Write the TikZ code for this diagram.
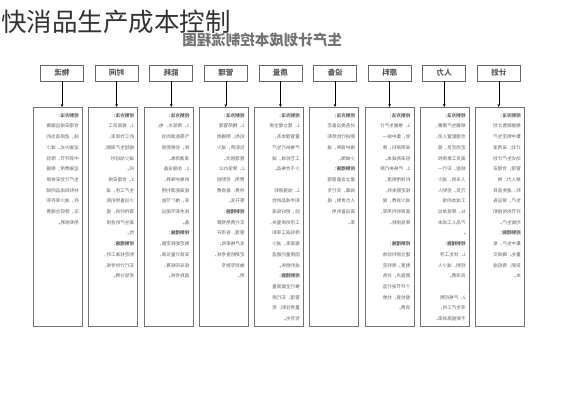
\documentclass[tikz,border=0pt]{standalone}
\usepackage{fontspec}
\setmainfont{Noto Sans CJK SC}
\usepackage{graphicx}
\usetikzlibrary{arrows.meta}

\begin{document}
\begin{tikzpicture}[x=1pt,y=1pt]
\tikzset{hbox/.style={draw=black!60,line width=.8pt,minimum width=43pt,minimum height=16pt,inner sep=0pt,
                      font=\fontsize{7.5}{8}\selectfont\bfseries,text=black!65},
         tbox/.style={draw=black!55,line width=1pt,minimum width=49pt,minimum height=219pt,inner sep=0pt,anchor=north west},
         txt/.style={inner sep=0pt,anchor=north east,font=\fontsize{4.6}{10.7}\selectfont,text=black!62},
         arr/.style={-{Stealth[length=3pt,width=2.6pt]},line width=.5pt}}
\fill[white] (0,0) rectangle (565,-400);
\useasboundingbox (0,0) rectangle (565,-400);

\node[anchor=base west,inner sep=0pt,font=\fontsize{25.5}{30}\selectfont,text=black!80] (title) at (1,-31) {快消品生产成本控制};
\node[anchor=base,inner sep=0pt,font=\fontsize{14.5}{18}\selectfont\bfseries,text=black!55] (sub) at (262,-45) {\reflectbox{生产计划成本控制流程图}};

% the whole chart is printed mirrored
\foreach \n/\t [count=\i from 0] in {log/物流,time/时间,energy/能耗,admin/管理,quality/质量,
                                   equip/设备,material/原料,labour/人力,plan/计划} {
  \node[hbox] (h\n) at (62+54.6*\i,-73) {\reflectbox{\t}};
  \node[tbox] (b\n) at (33+55.25*\i,-107) {};
  \draw[arr] (h\n) -- (h\n |- b\n.north);
}

\node[txt] (tlog) at ([xshift=-4,yshift=-6]blog.north east) {\reflectbox{\parbox[t]{34pt}{%
{\bfseries 控制方法：}\\合理安排运输路\\线，选择适当的\\运输方式，减少\\中转环节，降低\\运输费用；根据\\生产计划安排原\\材料和成品的储\\存，减少库存积\\压，降低仓储费\\用和损耗。}}};

\node[txt] (ttime) at ([xshift=-4,yshift=-6]btime.north east) {\reflectbox{\parbox[t]{34pt}{%
{\bfseries 控制方法：}\\1、提高员工\\的工作效率，\\缩短生产周期，\\减少加班时\\间。\\2、合理安排\\生产工序，减\\少设备停机和\\等待时间，提\\高生产的连续\\性。\\
{\bfseries 控制措施：}\\制定标准工时，\\实行计时考核，\\奖惩分明。}}};

\node[txt] (tenergy) at ([xshift=-4,yshift=-6]benergy.north east) {\reflectbox{\parbox[t]{34pt}{%
{\bfseries 控制方法：}\\1、降低水、电、\\气等能源的消\\耗，杜绝跑冒\\滴漏现象。\\2、加强设备\\的维护保养，\\提高能源利用\\率，推广节能\\技术和节能设\\备。\\
{\bfseries 控制措施：}\\制定能耗定额，\\安装计量仪表，\\按车间核算，\\超耗考核。}}};

\node[txt] (tadmin) at ([xshift=-4,yshift=-6]badmin.north east) {\reflectbox{\parbox[t]{34pt}{%
{\bfseries 控制方法：}\\1、精简管理\\机构，明确岗\\位职责，减少\\管理层次。\\2、降低办公\\费用，控制招\\待费、差旅费\\等开支。\\
{\bfseries 控制措施：}\\实行费用预算\\管理，各项开\\支严格审批，\\定期检查考核，\\做到专款专\\用。}}};

\node[txt] (tquality) at ([xshift=-4,yshift=-6]bquality.north east) {\reflectbox{\parbox[t]{34pt}{%
{\bfseries 控制方法：}\\1、建立健全质\\量管理体系，\\严格执行生产\\工艺标准，减\\少不合格品。\\[10.7pt]2、加强原料\\和半成品的检\\验，把好每道\\工序的质量关，\\降低返工率和\\报废率，减少\\因质量问题造\\成的损失。\\
{\bfseries 控制措施：}\\推行全面质量\\管理，实行质\\量责任制，奖\\优罚劣。}}};

\node[txt] (tequip) at ([xshift=-4,yshift=-6]bequip.north east) {\reflectbox{\parbox[t]{34pt}{%
{\bfseries 控制方法：}\\对各类设备定\\期进行检修和\\维护保养，减\\少故障。\\
{\bfseries 控制措施：}\\建立设备管理\\档案，实行专\\人负责制，提\\高设备利用\\率。}}};

\node[txt] (tmaterial) at ([xshift=-4,yshift=-6]bmaterial.north east) {\reflectbox{\parbox[t]{34pt}{%
{\bfseries 控制方法：}\\1、根据生产计\\划，集中统一\\采购原料，降\\低采购成本。\\2、严格执行原\\料领用制度，\\按定额发料，\\减少浪费，提\\高原料利用率，\\降低损耗。\\[10.7pt]
{\bfseries 控制措施：}\\建立原料验收\\制度，原料定\\期盘点，对各\\个环节进行监\\督检查，杜绝\\浪费。}}};

\node[txt] (tlabour) at ([xshift=-4,yshift=-6]blabour.north east) {\reflectbox{\parbox[t]{34pt}{%
{\bfseries 控制方法：}\\根据生产需要，\\合理配置人员，\\定岗定员，提\\高员工素质和\\技能，实行一\\人多岗，减少\\冗员，控制人\\工成本的增\\长，降低单位\\产品人工成本\\。\\
{\bfseries 控制措施：}\\1、优化工序\\控制，减少人\\员浪费。\\[10.7pt]2、严格控制\\非生产工时，\\不断提高效率。}}};

\node[txt] (tplan) at ([xshift=-4,yshift=-6]bplan.north east) {\reflectbox{\parbox[t]{34pt}{%
{\bfseries 控制方法：}\\根据销售计划\\集中制定生产\\计划，采用滚\\动式生产计划\\管理，合理安\\排人力、物\\料，避免盲目\\生产，保证各\\环节的衔接和\\均衡生产。\\
{\bfseries 控制措施：}\\集中生产，批\\量化，确保交\\货期，降低成\\本。}}};
\end{tikzpicture}
\end{document}
